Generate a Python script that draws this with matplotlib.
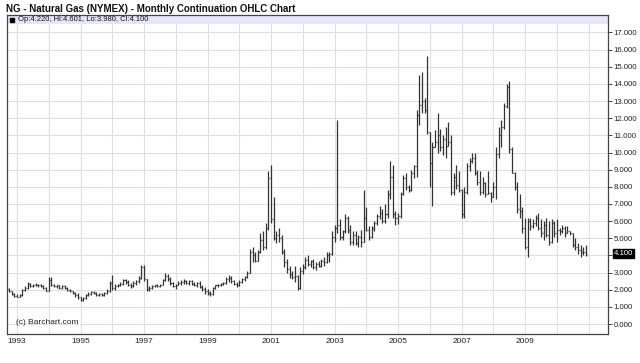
import numpy as np
import matplotlib
matplotlib.use("Agg")
import matplotlib.pyplot as plt
from matplotlib.patches import Rectangle

# monthly OHLC, Oct 1992 .. Dec 2010
first_bar = 1992.75
opens = [
    2.05, 1.90, 1.75,  # 1992 Q4
    1.65, 1.60, 1.70, 2.00, 2.10, 2.35, 2.20, 2.30, 2.25, 2.30, 2.20, 2.10,  # 1993
    1.95, 2.55, 2.30, 2.20, 2.25, 2.10, 2.20, 2.10, 2.00, 1.90, 1.80, 1.70,  # 1994
    1.55, 1.40, 1.50, 1.70, 1.75, 1.85, 1.80, 1.70, 1.75, 1.70, 1.80, 1.95,  # 1995
    2.40, 2.10, 2.20, 2.30, 2.35, 2.55, 2.45, 2.30, 2.20, 2.40, 2.50, 2.70,  # 1996
    3.30, 2.60, 2.05, 2.10, 2.20, 2.25, 2.20, 2.30, 2.55, 2.80, 2.60, 2.40,  # 1997
    2.20, 2.30, 2.40, 2.45, 2.50, 2.40, 2.50, 2.35, 2.30, 2.40, 2.15, 2.05,  # 1998
    1.90, 1.80, 1.75, 2.10, 2.25, 2.30, 2.35, 2.40, 2.65, 2.70, 2.50, 2.35,  # 1999
    2.30, 2.45, 2.60, 2.75, 3.00, 4.20, 4.00, 3.70, 4.20, 4.90, 4.50, 5.60,  # 2000
    8.50, 6.10, 5.00, 5.20, 5.00, 4.20, 3.60, 3.20, 2.90, 2.75, 2.80, 2.10,  # 2001
    3.10, 3.30, 3.75, 3.50, 3.65, 3.30, 3.50, 3.40, 3.70, 3.60, 4.00, 4.10,  # 2002
    5.10, 5.60, 5.80, 5.10, 5.40, 6.20, 5.50, 4.80, 5.20, 4.70, 5.10, 4.80,  # 2003
    6.20, 5.50, 5.10, 5.60, 5.90, 6.30, 6.50, 6.00, 6.40, 7.60, 8.60, 6.40,  # 2004
    6.20, 6.30, 7.60, 8.50, 8.00, 7.80, 8.80, 9.20, 12.20, 12.80, 13.00, 12.50,  # 2005
    11.20, 9.40, 10.30, 10.60, 11.00, 10.30, 10.80, 10.40, 10.60, 7.70, 8.60, 8.10,  # 2006
    7.80, 6.40, 7.70, 9.20, 9.50, 9.70, 8.80, 8.30, 7.70, 8.20, 7.60, 7.65,  # 2007
    7.40, 8.00, 9.90, 11.00, 11.50, 12.70, 13.80, 10.20, 8.80, 8.00, 6.70, 6.60,  # 2008
    5.60, 4.50, 6.00, 5.70, 5.90, 6.20, 5.60, 5.30, 5.80, 5.20, 4.80, 5.90,  # 2009
    5.30, 5.50, 5.40, 5.60, 5.30, 5.40, 5.30, 4.60, 4.50, 4.30, 4.20, 4.22,  # 2010
]
highs = [
    2.10, 1.95, 1.80,
    1.75, 1.75, 2.05, 2.20, 2.45, 2.40, 2.35, 2.40, 2.35, 2.35, 2.25, 2.15,
    2.75, 2.75, 2.35, 2.30, 2.25, 2.25, 2.25, 2.15, 2.05, 1.95, 1.85, 1.80,
    1.60, 1.55, 1.75, 1.85, 1.90, 1.90, 1.85, 1.80, 1.80, 1.85, 2.05, 2.50,
    2.85, 2.35, 2.35, 2.45, 2.65, 2.60, 2.55, 2.40, 2.50, 2.55, 2.80, 3.45,
    3.45, 2.65, 2.20, 2.25, 2.30, 2.35, 2.35, 2.60, 2.95, 2.90, 2.75, 2.45,
    2.35, 2.50, 2.55, 2.60, 2.55, 2.55, 2.55, 2.45, 2.45, 2.50, 2.30, 2.15,
    2.05, 1.90, 2.15, 2.30, 2.35, 2.40, 2.45, 2.75, 2.85, 2.80, 2.55, 2.45,
    2.55, 2.70, 2.80, 3.10, 4.35, 4.50, 4.20, 4.30, 5.30, 5.40, 5.90, 8.90,
    9.30, 7.40, 5.40, 5.60, 5.20, 4.40, 3.80, 3.40, 3.10, 3.40, 2.85, 3.30,
    3.50, 3.90, 4.00, 3.75, 3.80, 3.60, 3.70, 3.80, 3.90, 4.20, 4.20, 5.40,
    5.80, 11.90, 6.10, 5.50, 6.40, 6.30, 5.80, 5.40, 5.40, 5.20, 5.50, 7.80,
    6.80, 5.70, 5.70, 6.00, 6.40, 6.90, 6.70, 7.00, 7.80, 9.50, 9.30, 6.60,
    6.50, 7.70, 8.70, 8.80, 8.10, 9.00, 9.30, 12.50, 14.50, 14.70, 13.20, 15.60,
    11.20, 10.60, 11.30, 12.30, 11.40, 11.00, 11.50, 11.80, 11.00, 8.80, 9.30, 8.90,
    7.90, 8.00, 9.40, 9.70, 10.00, 10.00, 9.00, 8.90, 8.60, 8.30, 8.90, 7.70,
    8.30, 10.30, 11.50, 11.90, 12.90, 14.00, 14.20, 10.30, 8.85, 8.30, 7.60, 6.80,
    6.20, 6.20, 6.20, 6.10, 6.35, 6.45, 6.10, 6.00, 6.20, 6.00, 6.10, 6.00,
    6.10, 5.60, 5.80, 5.70, 5.70, 5.45, 5.30, 5.00, 4.70, 4.60, 4.50, 4.601,
]
lows = [
    1.85, 1.70, 1.58,
    1.55, 1.55, 1.65, 1.90, 2.05, 2.15, 2.15, 2.20, 2.15, 2.15, 2.05, 1.90,
    1.95, 2.20, 2.15, 2.10, 2.05, 2.05, 2.05, 1.95, 1.85, 1.75, 1.60, 1.45,
    1.35, 1.35, 1.45, 1.65, 1.70, 1.75, 1.65, 1.65, 1.65, 1.65, 1.75, 1.85,
    2.00, 2.00, 2.15, 2.20, 2.30, 2.35, 2.20, 2.10, 2.15, 2.25, 2.40, 2.60,
    2.50, 1.95, 1.95, 2.05, 2.15, 2.15, 2.15, 2.25, 2.50, 2.50, 2.30, 2.15,
    2.05, 2.25, 2.30, 2.35, 2.35, 2.30, 2.30, 2.20, 2.15, 2.10, 1.90, 1.75,
    1.70, 1.65, 1.70, 2.05, 2.15, 2.20, 2.25, 2.35, 2.45, 2.40, 2.25, 2.15,
    2.20, 2.40, 2.50, 2.70, 2.95, 3.60, 3.60, 3.65, 4.15, 4.30, 4.40, 5.50,
    5.90, 4.90, 4.70, 4.80, 4.10, 3.30, 3.00, 2.70, 2.60, 2.45, 2.00, 2.05,
    2.90, 3.20, 3.40, 3.30, 3.20, 3.15, 3.30, 3.30, 3.40, 3.55, 3.60, 4.00,
    4.80, 5.30, 4.90, 4.90, 5.30, 5.30, 4.60, 4.60, 4.60, 4.50, 4.50, 4.80,
    5.40, 4.90, 5.00, 5.40, 5.80, 6.10, 5.90, 5.90, 6.20, 7.30, 6.20, 5.80,
    5.85, 6.20, 7.50, 7.80, 7.70, 7.75, 8.50, 8.60, 11.60, 12.30, 12.30, 11.10,
    8.00, 6.90, 10.30, 10.00, 10.10, 9.85, 9.70, 10.40, 7.50, 7.50, 7.90, 7.70,
    6.20, 6.20, 7.60, 8.90, 9.40, 8.70, 8.10, 7.50, 7.60, 7.40, 7.60, 7.10,
    7.40, 7.30, 9.70, 10.30, 11.40, 12.60, 10.00, 8.80, 7.80, 6.50, 6.20, 5.30,
    4.40, 3.90, 5.50, 5.60, 5.70, 5.50, 5.10, 4.90, 5.10, 4.60, 4.70, 5.10,
    4.80, 5.20, 5.30, 5.10, 5.30, 5.20, 4.50, 4.30, 4.10, 3.90, 4.00, 3.98,
]
closes = [
    1.90, 1.75, 1.65,
    1.60, 1.70, 2.00, 2.10, 2.35, 2.20, 2.30, 2.25, 2.30, 2.20, 2.10, 1.95,
    2.55, 2.30, 2.20, 2.25, 2.10, 2.20, 2.10, 2.00, 1.90, 1.80, 1.70, 1.55,
    1.40, 1.50, 1.70, 1.75, 1.85, 1.80, 1.70, 1.75, 1.70, 1.80, 1.95, 2.40,
    2.10, 2.20, 2.30, 2.35, 2.55, 2.45, 2.30, 2.20, 2.40, 2.50, 2.70, 3.30,
    2.60, 2.05, 2.10, 2.20, 2.25, 2.20, 2.30, 2.55, 2.80, 2.60, 2.40, 2.20,
    2.30, 2.40, 2.45, 2.50, 2.40, 2.50, 2.35, 2.30, 2.40, 2.15, 2.05, 1.90,
    1.80, 1.75, 2.10, 2.25, 2.30, 2.35, 2.40, 2.65, 2.70, 2.50, 2.35, 2.30,
    2.45, 2.60, 2.75, 3.00, 4.20, 4.00, 3.70, 4.20, 4.90, 4.50, 5.60, 8.50,
    6.10, 5.00, 5.20, 5.00, 4.20, 3.60, 3.20, 2.90, 2.75, 2.80, 2.10, 3.10,
    3.30, 3.75, 3.50, 3.65, 3.30, 3.50, 3.40, 3.70, 3.60, 4.00, 4.10, 5.10,
    5.60, 5.80, 5.10, 5.40, 6.20, 5.50, 4.80, 5.20, 4.70, 5.10, 4.80, 6.20,
    5.50, 5.10, 5.60, 5.90, 6.30, 6.50, 6.00, 6.40, 7.60, 8.60, 6.40, 6.20,
    6.30, 7.60, 8.50, 8.00, 7.80, 8.80, 9.20, 12.20, 12.80, 13.00, 12.50, 11.20,
    9.40, 10.30, 10.60, 11.00, 10.30, 10.80, 10.40, 10.60, 7.70, 8.60, 8.10, 7.80,
    6.40, 7.70, 9.20, 9.50, 9.70, 8.80, 8.30, 7.70, 8.20, 7.60, 7.65, 7.40,
    8.00, 9.90, 11.00, 11.50, 12.70, 13.80, 10.20, 8.80, 8.00, 6.70, 6.60, 5.60,
    4.50, 6.00, 5.70, 5.90, 6.20, 5.60, 5.30, 5.80, 5.20, 4.80, 5.90, 5.30,
    5.50, 5.40, 5.60, 5.30, 5.40, 5.30, 4.60, 4.50, 4.30, 4.20, 4.22, 4.10,
]
year_labels = [1993, 1995, 1997, 1999, 2001, 2003, 2005, 2007, 2009]
legend_text = "Op:4.220, Hi:4.601, Lo:3.980, Cl:4.100"
last_close = 4.100

W, H = 640, 363
fig = plt.figure(figsize=(W / 100, H / 100), dpi=100)
fig.patch.set_facecolor("white")
plt.rcParams["font.family"] = ["Liberation Sans", "DejaVu Sans"]

left, right, top, bottom = 7, 608, 15, 334
ax = fig.add_axes([left / W, 1 - bottom / H, (right - left) / W, (bottom - top) / H])

x = first_bar + np.arange(len(opens)) / 12.0
bar_col = "#333333"
tick_w = 0.032
ax.vlines(x, lows, highs, color=bar_col, lw=0.9)
ax.hlines(opens, x - tick_w, x, color=bar_col, lw=0.9)
ax.hlines(closes, x, x + tick_w, color=bar_col, lw=0.9)

ax.set_xlim(1992.685, 2011.61)
ax.set_ylim(-0.583, 18.02)

# grid
for yr in range(1993, 2012):
    ax.axvline(yr, color="#e0e0e0", lw=0.8, zorder=0)
for v in range(0, 18):
    ax.axhline(v, color="#e0e0e0", lw=0.8, zorder=0)

for s in ax.spines.values():
    s.set_color("#444444")
    s.set_linewidth(0.9)

# the last-price box sits where the 4.000 label would be
ax.yaxis.tick_right()
ax.set_yticks(range(0, 18))
ax.set_yticklabels(["" if v == 4 else f"{v}.000" for v in range(0, 18)],
                   fontsize=5.6, color="#222222")
ax.tick_params(axis="y", length=3, width=0.7, color="#444444", pad=1)
ax.set_xticks(year_labels)
ax.set_xticklabels([str(y) for y in year_labels], fontsize=6, color="#222222")
ax.tick_params(axis="x", length=0, pad=3)

# legend band
ax.add_patch(Rectangle((0, 1 - 9 / (bottom - top)), 1, 9 / (bottom - top),
                       transform=ax.transAxes, facecolor="#e6e6fb", edgecolor="none", zorder=1))
ax.plot([0.0085], [1 - 4.5 / (bottom - top)], marker="s", ms=3.5, color="black",
        transform=ax.transAxes, zorder=3)
ax.text(0.0175, 1 - 4.5 / (bottom - top), legend_text, transform=ax.transAxes,
        fontsize=5.5, va="center", ha="left", color="#111111", zorder=3)

ax.text(0.015, 0.025, "(c) Barchart.com", transform=ax.transAxes, fontsize=6,
        color="#222222", va="bottom", ha="left")

# last price box
ax.annotate(f"{last_close:.3f}", xy=(1.0, last_close), xycoords=("axes fraction", "data"),
            xytext=(4, 0), textcoords="offset points", fontsize=5.6, color="white",
            va="center", ha="left",
            bbox=dict(boxstyle="square,pad=0.1", fc="black", ec="black"))

fig.text(6 / W, 1 - 9 / H, "NG - Natural Gas (NYMEX) - Monthly Continuation OHLC Chart",
         fontsize=7, fontweight="bold", va="center", ha="left", color="#111111")

fig.savefig("out.png", dpi=100, facecolor="white")
